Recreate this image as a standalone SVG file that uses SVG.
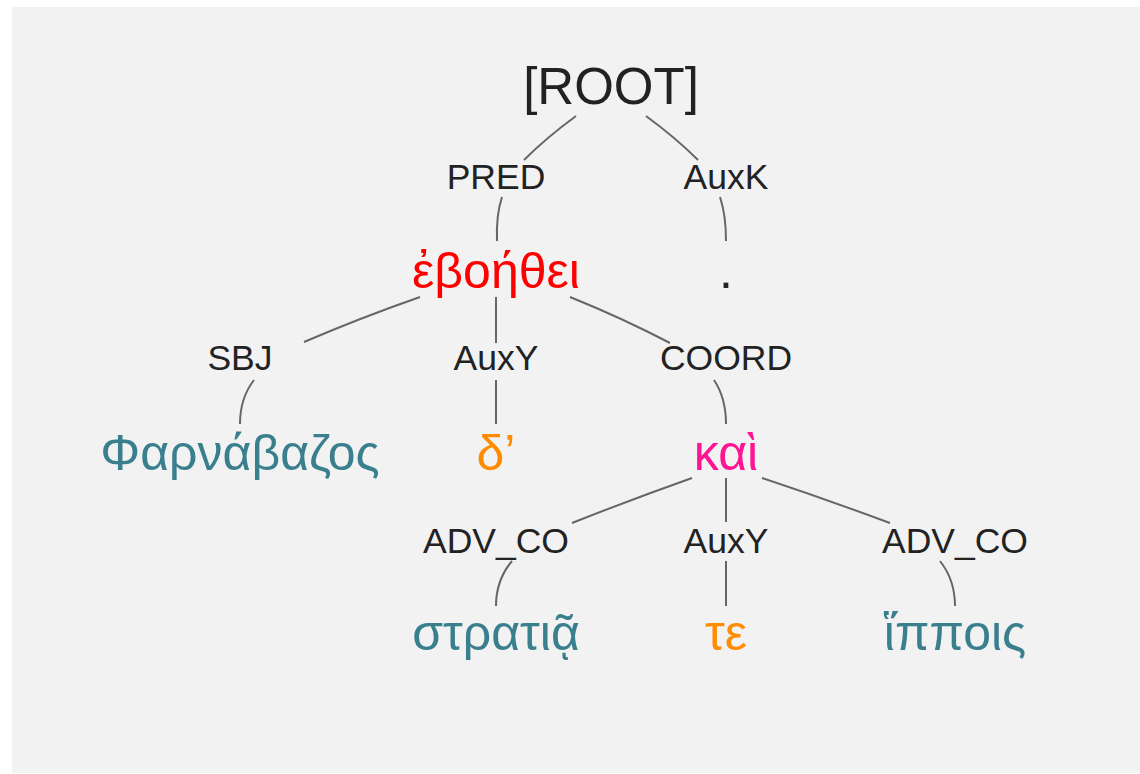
<svg xmlns="http://www.w3.org/2000/svg" width="1140" height="774" viewBox="0 0 1140 774">
<style>
text{font-family:"Liberation Sans",Arial,"DejaVu Sans",sans-serif;text-anchor:middle}
.root{font-size:51px;fill:#222}
.lab{font-size:35.5px;fill:#222}
.w{font-size:50px}
.red{fill:#ff0000}
.teal{fill:#3a7f8e}
.orange{fill:#ff8c00}
.pink{fill:#ff1493}
.dark{fill:#222}
#edges path{fill:none;stroke:#666;stroke-width:2}
</style>
<rect x="0" y="0" width="1140" height="774" fill="#ffffff"/>
<rect x="12" y="7" width="1128" height="766" fill="#f2f2f2"/>
<g id="edges">
<path d="M576,116 Q546,138 524,160"/>
<path d="M646,116 Q676,138 698,160"/>
<path d="M502,197 Q496,215 497,241"/>
<path d="M720,197 Q726,215 726,241"/>
<path d="M420,297 Q360,318 304,342"/>
<path d="M496,297 L496,343"/>
<path d="M570,297 Q622,318 670,343"/>
<path d="M254,380 Q240,398 240,424"/>
<path d="M496,380 L496,424"/>
<path d="M714,380 Q726,398 726,424"/>
<path d="M692,478 Q630,500 572,523"/>
<path d="M726,478 L726,522"/>
<path d="M762,478 Q828,500 890,523"/>
<path d="M512,561 Q496,580 496,606"/>
<path d="M726,561 L726,606"/>
<path d="M940,561 Q955,580 955,606"/>
</g>
<g id="root"><text class="root" x="611" y="104">[ROOT]</text></g>
<g id="lab-pred"><text class="lab" x="496" y="189">PRED</text></g>
<g id="lab-auxk"><text class="lab" x="726" y="189">AuxK</text></g>
<g id="w-evoethei"><text class="w red" x="496" y="288">ἐβοήθει</text></g>
<g id="w-period"><text class="w dark" x="726" y="288">.</text></g>
<g id="lab-sbj"><text class="lab" x="240" y="370">SBJ</text></g>
<g id="lab-auxy1"><text class="lab" x="496" y="370">AuxY</text></g>
<g id="lab-coord"><text class="lab" x="726" y="370">COORD</text></g>
<g id="w-pharnabazos"><text class="w teal" x="240" y="470">Φαρνάβαζος</text></g>
<g id="w-de"><text class="w orange" x="496" y="470">δ’</text></g>
<g id="w-kai"><text class="w pink" x="726" y="470">καὶ</text></g>
<g id="lab-advco1"><text class="lab" x="496" y="553">ADV_CO</text></g>
<g id="lab-auxy2"><text class="lab" x="726" y="553">AuxY</text></g>
<g id="lab-advco2"><text class="lab" x="955" y="553">ADV_CO</text></g>
<g id="w-stratia"><text class="w teal" x="496" y="650">στρατιᾷ</text></g>
<g id="w-te"><text class="w orange" x="726" y="650">τε</text></g>
<g id="w-hippois"><text class="w teal" x="955" y="650">ἵπποις</text></g>
</svg>
